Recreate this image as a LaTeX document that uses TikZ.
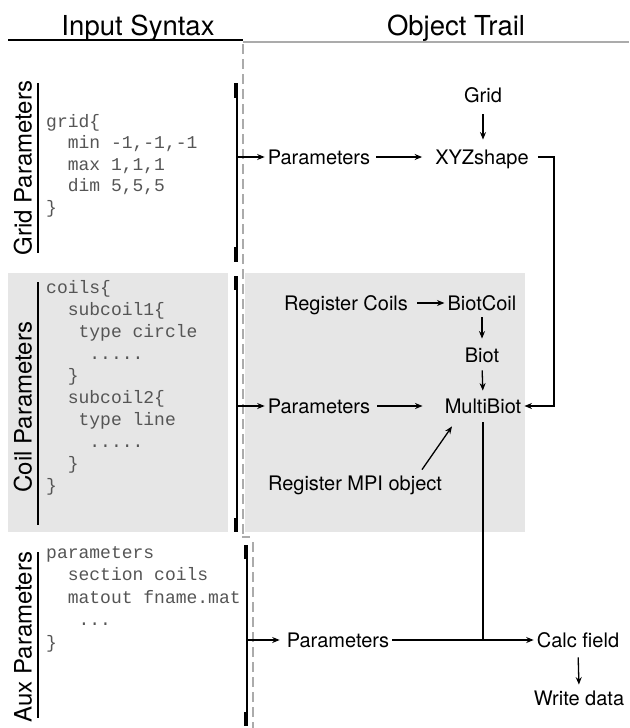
\documentclass[tikz,border=0pt]{standalone}
\usepackage{fontspec}
\setmainfont{TeX Gyre Heros}
\setmonofont{Liberation Mono}
\usetikzlibrary{arrows.meta,calc,positioning}

\definecolor{boxgray}{HTML}{E6E6E6}
\definecolor{rulegray}{HTML}{ABABAB}
\definecolor{codegray}{HTML}{555555}

\newcommand{\dotsfive}{.....}
\newcommand{\dotsthree}{...}

\tikzset{
  obj/.style={font=\fontsize{20}{24}\selectfont, inner sep=3pt,
    text height=14.4pt, text depth=0pt},
  code/.style={font=\ttfamily\fontsize{18}{21}\selectfont, text=codegray,
    inner sep=0pt, anchor=base west},
  sect/.style={font=\fontsize{24}{28}\selectfont, rotate=90, inner sep=0pt,
    text height=17.2pt, text depth=0pt},
  heading/.style={font=\fontsize{27.5}{32}\selectfont, inner sep=0pt, anchor=base},
  flow/.style={-{Stealth[length=7.5pt,width=6pt]}, line width=1.3pt},
  brk/.style={line width=1.3pt},
  brkend/.style={line width=4pt},
}

\begin{document}
\begin{tikzpicture}[x=1pt,y=-1pt]
  \useasboundingbox (0,0) rectangle (629,728);

  % shaded coil band
  \fill[boxgray] (8,273) rectangle (228,532);
  \fill[boxgray] (245,273) rectangle (525,532);

  % column headings
  \node[heading] (insyn) at (138,35) {Input Syntax};
  \node[heading] (objtr) at (456,35) {Object Trail};
  \draw[brk] (8,40) -- (243,40);
  \draw[rulegray,line width=2pt] (243,41.5) -- (629,41.5);
  \draw[rulegray,line width=1.3pt,dash pattern=on 10pt off 5pt]
    (243,44) -- (243,537);
  \draw[rulegray,line width=1.3pt] (242,537) -- (250,537);
  \draw[rulegray,line width=1.3pt,dash pattern=on 10pt off 5pt]
    (253,542) -- (253,728);

  % section labels
  \node[sect] (gridlbl) at (23,168) {Grid Parameters};
  \draw[brk] (38,83) -- (38,253);
  \node[sect] (coillbl) at (23,407) {Coil Parameters};
  \draw[brk] (38,282) -- (38,525);
  \node[sect] (auxlbl) at (23,637) {Aux Parameters};
  \draw[brk] (38,552) -- (38,718);

  % input syntax
  \foreach \ln [count=\i from 0] in {grid\{, {~~min -1,-1,-1}, {~~max 1,1,1},
      {~~dim 5,5,5}, \}}
    \node[code] (gl\i) at (46,127+21.5*\i) {\ln};
  \foreach \ln [count=\i from 0] in {coils\{, ~~subcoil1\{, ~~~type circle,
      ~~~~\dotsfive, ~~\}, ~~subcoil2\{, ~~~type line, ~~~~\dotsfive, ~~\}, \}}
    \node[code] (cl\i) at (46,293+22.1*\i) {\ln};
  \foreach \ln [count=\i from 0] in {parameters, ~~section coils,
      ~~matout fname.mat, ~~~\dotsthree, \}}
    \node[code] (al\i) at (46,558+22.5*\i) {\ln};

  % brackets
  \coordinate (gbtop) at (237,83);
  \coordinate (gbbot) at (237,262);
  \draw[brk] (gbtop) -- (gbbot);
  \draw[brkend] (235.5,83) -- (235.5,98);
  \draw[brkend] (235.5,247) -- (235.5,262);
  \coordinate (cbtop) at (237,276);
  \coordinate (cbbot) at (237,532);
  \draw[brk] (cbtop) -- (cbbot);
  \draw[brkend] (235.5,276) -- (235.5,290);
  \draw[brkend] (235.5,518) -- (235.5,532);
  \coordinate (abtop) at (247,545);
  \coordinate (abbot) at (247,726);
  \draw[brk] (abtop) -- (abbot);
  \draw[brkend] (245.5,545) -- (245.5,559);
  \draw[brkend] (245.5,712) -- (245.5,726);

  % object trail
  \node[obj] (grid) at (483,95) {Grid};
  \node[obj] (xyz) at (482,157) {XYZshape};
  \node[obj] (par1) at (319,157) {Parameters};
  \node[obj] (regc) at (346,303) {Register Coils};
  \node[obj] (bcoil) at (482,303) {BiotCoil};
  \node[obj] (biot) at (482,355) {Biot};
  \node[obj] (multi) at (483,406) {MultiBiot};
  \node[obj] (par2) at (319,406) {Parameters};
  \node[obj] (mpi) at (355,483) {Register MPI object};
  \node[obj] (par3) at (338,640) {Parameters};
  \node[obj] (calc) at (578,640) {Calc field};
  \node[obj] (wdata) at (579,698) {Write data};

  \draw[flow] (gbtop |- par1.west) -- (par1.west);
  \draw[flow] (cbtop |- par2.west) -- (par2.west);
  \draw[flow,shorten >=4pt] (abtop |- par3.west) -- (par3.west);

  \draw[flow,shorten <=9pt,shorten >=7pt] (grid.south) -- (grid.south |- xyz.north);
  \draw[flow,shorten <=3pt,shorten >=10pt] (par1.east) -- (xyz.west);
  \draw[flow,shorten <=6pt] (xyz.east) -- ($(xyz.east)+(22,0)$) |- (multi.east);
  \draw[flow,shorten <=6pt] (regc.east) -- (bcoil.west);
  \draw[flow,shorten <=4pt,shorten >=6pt] (bcoil.south) -- (biot.north);
  \draw[flow,shorten <=5pt,shorten >=5pt] (biot.south) -- (multi.north);
  \draw[flow,shorten <=4pt,shorten >=19pt] (par2.east) -- (multi.west);
  \draw[flow] ([xshift=67pt,yshift=3pt]mpi.north)
    -- ([xshift=-31pt,yshift=-10pt]multi.south);
  \draw[brk,shorten <=6pt] (multi.south) -- (multi.south |- par3.east);
  \draw[flow] (par3.east) -- (calc.west);
  \draw[flow,shorten <=7pt,shorten >=3pt] (calc.south) -- (wdata.north);
\end{tikzpicture}
\end{document}
